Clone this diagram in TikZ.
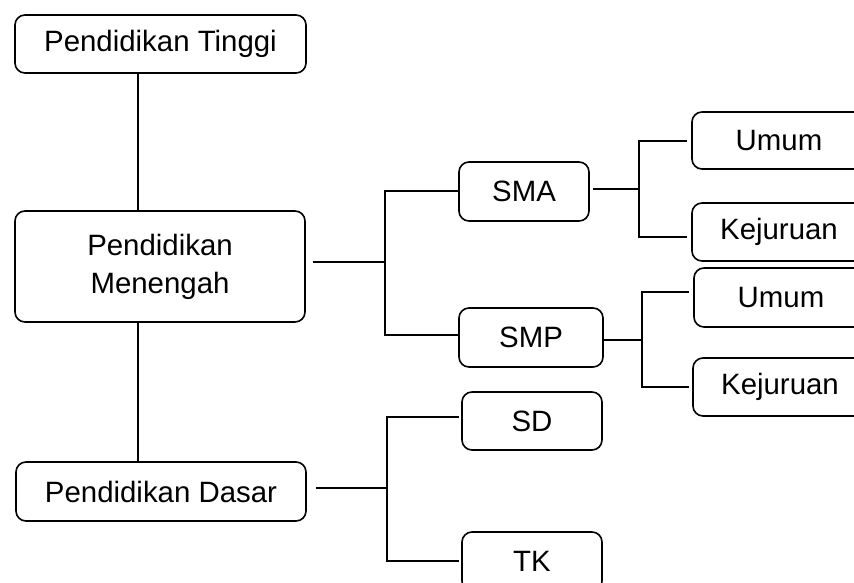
\documentclass[tikz,border=0pt]{standalone}
\usepackage{fontspec}
\setmainfont{Liberation Sans}
\begin{document}
\begin{tikzpicture}[x=1pt,y=-1pt,
  box/.style={draw=black, line width=1.6pt, rounded corners=10pt, inner sep=0pt,
    font=\fontsize{29.4pt}{38pt}\selectfont, align=center, minimum height=58pt},
  conn/.style={line width=1.6pt}]
\useasboundingbox (0,0) rectangle (854,583);
% nodes
\node[box, minimum width=291pt, minimum height=58pt] (tinggi) at (160.5,44) {Pendidikan Tinggi};
\node[box, minimum width=290pt, minimum height=111pt] (menengah) at (160,266.5) {Pendidikan\\Menengah};
\node[box, minimum width=290pt, minimum height=59pt] (dasar) at (161,491.5) {Pendidikan Dasar};
\node[box, minimum width=130pt, minimum height=59pt] (sma) at (524,191.5) {SMA};
\node[box, minimum width=144pt, minimum height=59pt] (smp) at (531,337.5) {SMP};
\node[box, minimum width=140pt, minimum height=58pt] (sd) at (532,421) {SD};
\node[box, minimum width=140pt, minimum height=59pt] (tk) at (532,561.5) {TK};
\node[box, minimum width=174pt, minimum height=57pt] (umum1) at (779,140.5) {Umum};
\node[box, minimum width=174pt, minimum height=58pt] (kej1) at (779,232) {Kejuruan};
\node[box, minimum width=174pt, minimum height=59pt] (umum2) at (781,297.5) {Umum};
\node[box, minimum width=174pt, minimum height=58pt] (kej2) at (780,387) {Kejuruan};
% branch points
\coordinate (b1) at (385,262);
\coordinate (b1t) at (385,191);
\coordinate (b1b) at (385,335);
\coordinate (b2) at (639,189);
\coordinate (b2t) at (639,141);
\coordinate (b2b) at (639,237);
\coordinate (b3) at (642,340);
\coordinate (b3t) at (642,292);
\coordinate (b3b) at (642,387);
\coordinate (b4) at (387,488);
\coordinate (b4t) at (387,417);
\coordinate (b4b) at (387,561);
\coordinate (v) at (138,0);
% vertical spine
\draw[conn] (tinggi.south -| v) -- (menengah.north -| v);
\draw[conn] (menengah.south -| v) -- (dasar.north -| v);
% menengah branch
\draw[conn] ([xshift=7pt]menengah.east |- b1) -- (b1);
\draw[conn] (sma.west |- b1t) -- (b1t) -- (b1b) -- (smp.west |- b1b);
% SMA branch
\draw[conn] ([xshift=3pt]sma.east |- b2) -- (b2);
\draw[conn] ([xshift=-4pt]umum1.west |- b2t) -- (b2t) -- (b2b) -- ([xshift=-4pt]kej1.west |- b2b);
% SMP branch
\draw[conn] (smp.east |- b3) -- (b3);
\draw[conn] ([xshift=-4pt]umum2.west |- b3t) -- (b3t) -- (b3b) -- ([xshift=-3pt]kej2.west |- b3b);
% dasar branch
\draw[conn] ([xshift=9pt]dasar.east |- b4) -- (b4);
\draw[conn] ([xshift=-2pt]sd.west |- b4t) -- (b4t) -- (b4b) -- ([xshift=-2pt]tk.west |- b4b);
\end{tikzpicture}
\end{document}
